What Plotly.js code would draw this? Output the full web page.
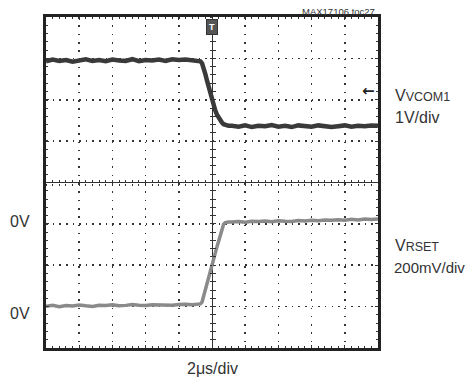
<!DOCTYPE html>
<html>
<head>
<meta charset="utf-8">
<script src="https://cdn.plot.ly/plotly-3.0.1.min.js"></script>
<style>html,body{margin:0;padding:0;background:#fff;}#chart{width:467px;height:381px;}</style>
</head>
<body>
<div id="chart"></div>
<script>
// time in microseconds (2 us/div)
var timeUs = [-10,-9.6,-9.2,-8.8,-8.4,-8,-7.6,-7.2,-6.8,-6.4,-6,-5.6,-5.2,-4.8,-4.4,-4,-3.6,-3.2,-2.8,-2.4,-2,-1.6,-1.2,
  -0.9,-0.8,-0.7,-0.6,-0.5,-0.4,-0.3,-0.2,-0.1,0,0.1,0.2,0.3,0.4,0.5,0.6,0.7,0.8,0.9,1.0,
  1.2,1.6,2,2.4,2.8,3.2,3.6,4,4.4,4.8,5.2,5.6,6,6.4,6.8,7.2,7.6,8,8.4,8.8,9.2,9.6,10];
// VVCOM1 in volts (1 V/div)
var vcom1V = [3.93,3.97,3.94,3.96,3.92,3.95,3.98,3.94,3.96,3.93,3.97,3.95,3.94,3.98,3.93,3.96,3.95,3.97,3.94,3.98,3.96,3.97,3.95,
  3.96,3.95,3.93,3.88,3.77,3.62,3.46,3.30,3.15,3.00,2.86,2.74,2.64,2.56,2.50,2.45,2.41,2.39,2.37,2.37,
  2.37,2.35,2.38,2.34,2.37,2.36,2.39,2.35,2.37,2.34,2.38,2.36,2.35,2.38,2.37,2.34,2.36,2.38,2.35,2.37,2.36,2.38,2.37];
// VRSET in millivolts (200 mV/div)
var vrsetMv = [2,6,0,5,3,8,4,1,7,5,9,4,6,10,7,5,9,8,11,7,10,12,9,
  11,12,13,22,50,80,110,140,170,200,230,260,290,320,350,378,398,406,408,409,
  409,412,408,413,411,414,410,415,413,412,416,414,418,415,419,417,420,418,422,419,423,421,424];

var labelFont = "'Liberation Sans', Arial, sans-serif";
var txtCol = '#333';
var gridCol = '#333';

var traces = [
  {x: timeUs, y: vcom1V, xaxis: 'x', yaxis: 'y', mode: 'lines',
   line: {color: '#3a3a3a', width: 4.5}, hoverinfo: 'skip', showlegend: false},
  {x: timeUs, y: vrsetMv, xaxis: 'x', yaxis: 'y2', mode: 'lines',
   line: {color: '#8a8a8a', width: 3.5}, hoverinfo: 'skip', showlegend: false},
  {x: [null], y: [null], xaxis: 'x3', yaxis: 'y', mode: 'lines', hoverinfo: 'skip', showlegend: false},
  {x: [null], y: [null], xaxis: 'x4', yaxis: 'y', mode: 'lines', hoverinfo: 'skip', showlegend: false},
  {x: [null], y: [null], xaxis: 'x', yaxis: 'y3', mode: 'lines', hoverinfo: 'skip', showlegend: false},
  {x: [null], y: [null], xaxis: 'x', yaxis: 'y4', mode: 'lines', hoverinfo: 'skip', showlegend: false}
];

function centerX(side) {
  return {overlaying: 'x', anchor: 'free', position: 0.5, range: [-10, 10], showgrid: false,
    zeroline: false, showline: false, showticklabels: false, ticks: side, tickmode: 'linear',
    tick0: 0, dtick: 0.4, ticklen: 2.5, tickwidth: 1, tickcolor: gridCol};
}
function centerY(side) {
  return {overlaying: 'y', anchor: 'free', position: 0.5, range: [-3, 5], showgrid: false,
    zeroline: false, showline: false, showticklabels: false, ticks: side, tickmode: 'linear',
    tick0: 1, dtick: 0.2, ticklen: 2.5, tickwidth: 1, tickcolor: gridCol};
}

var layout = {
  width: 467, height: 381,
  margin: {l: 46, r: 89, t: 17, b: 33, pad: 0},
  paper_bgcolor: '#fff', plot_bgcolor: '#fff',
  showlegend: false,
  xaxis: {range: [-10, 10], tickmode: 'linear', tick0: 0, dtick: 2, showgrid: true,
    gridcolor: gridCol, gridwidth: 1.6, griddash: '1.6px,6.7px',
    zeroline: true, zerolinecolor: gridCol, zerolinewidth: 1,
    showline: true, linecolor: '#222', linewidth: 3, mirror: 'ticks',
    ticks: 'inside', ticklen: 3, tickcolor: gridCol, showticklabels: false,
    minor: {tickmode: 'linear', dtick: 0.4, ticks: 'inside', ticklen: 2, tickcolor: gridCol}},
  yaxis: {range: [-3, 5], tickmode: 'linear', tick0: 1, dtick: 1, showgrid: true,
    gridcolor: gridCol, gridwidth: 1.6, griddash: '1.6px,5.04px',
    zeroline: false,
    showline: true, linecolor: '#222', linewidth: 3, mirror: 'ticks',
    ticks: 'inside', ticklen: 3, tickcolor: gridCol, showticklabels: false,
    minor: {tickmode: 'linear', dtick: 0.2, ticks: 'inside', ticklen: 2, tickcolor: gridCol}},
  yaxis2: {overlaying: 'y', range: [-200, 1400], showgrid: false, zeroline: false,
    showline: false, showticklabels: false, ticks: ''},
  xaxis3: centerX('outside'),
  xaxis4: centerX('inside'),
  yaxis3: centerY('outside'),
  yaxis4: centerY('inside'),
  shapes: [
    {type: 'line', xref: 'paper', yref: 'y', x0: 0, x1: 1, y0: 1, y1: 1,
     line: {color: gridCol, width: 1}, layer: 'below'}
  ],
  annotations: [
    {xref: 'paper', yref: 'paper', x: 0.997, y: 1.018, xanchor: 'right', yanchor: 'middle',
     text: 'MAX17106 toc27', showarrow: false, font: {family: labelFont, size: 9.5, color: txtCol}},
    {xref: 'paper', yref: 'paper', x: 1.045, y: 0.763, xanchor: 'left', yanchor: 'middle',
     text: 'V<span style="font-size:12.5px">VCOM1</span>', showarrow: false, font: {family: labelFont, size: 16, color: txtCol}},
    {xref: 'paper', yref: 'paper', x: 1.045, y: 0.697, xanchor: 'left', yanchor: 'middle',
     text: '1V/div', showarrow: false, font: {family: labelFont, size: 16, color: txtCol}},
    {xref: 'paper', yref: 'paper', x: 1.045, y: 0.310, xanchor: 'left', yanchor: 'middle',
     text: 'V<span style="font-size:12.5px">RSET</span>', showarrow: false, font: {family: labelFont, size: 16, color: txtCol}},
    {xref: 'paper', yref: 'paper', x: 1.042, y: 0.244, xanchor: 'left', yanchor: 'middle',
     text: '200mV/div', showarrow: false, font: {family: labelFont, size: 15, color: txtCol}},
    {xref: 'paper', yref: 'paper', x: -0.078, y: 0.381, xanchor: 'center', yanchor: 'middle',
     text: '0V', showarrow: false, font: {family: labelFont, size: 16, color: txtCol}},
    {xref: 'paper', yref: 'paper', x: -0.078, y: 0.103, xanchor: 'center', yanchor: 'middle',
     text: '0V', showarrow: false, font: {family: labelFont, size: 16, color: txtCol}},
    {xref: 'paper', yref: 'paper', x: 0.5, y: -0.063, xanchor: 'center', yanchor: 'middle',
     text: '2μs/div', showarrow: false, font: {family: labelFont, size: 16, color: txtCol}},
    {xref: 'x', yref: 'paper', x: 0, y: 0.995, xanchor: 'center', yanchor: 'top',
     text: '<b>T</b>', showarrow: false, bgcolor: '#555', bordercolor: '#333', borderwidth: 1, borderpad: 2,
     font: {family: 'Liberation Sans, Arial, sans-serif', size: 9, color: '#fff'}},
    {xref: 'paper', yref: 'y', x: 0.997, y: 3.2, xanchor: 'right', yanchor: 'middle',
     text: '<b>←</b>', showarrow: false, font: {family: 'DejaVu Sans, sans-serif', size: 15, color: '#222'}}
  ]
};

Plotly.newPlot('chart', traces, layout, {staticPlot: true, displayModeBar: false});
</script>
</body>
</html>
